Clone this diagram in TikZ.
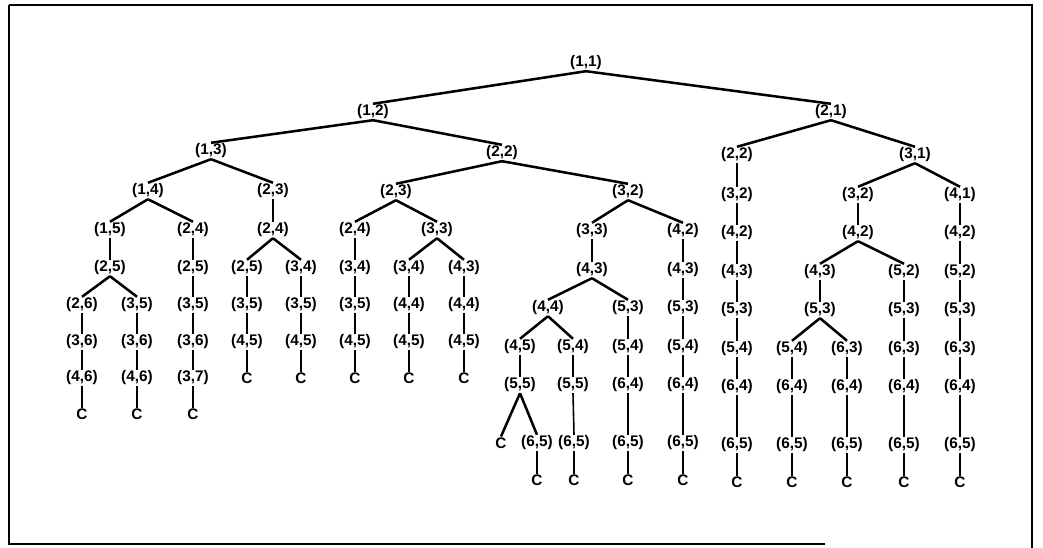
\documentclass[tikz,border=0pt]{standalone}
\usepackage{fontspec}
\setmainfont{Liberation Sans}
\begin{document}
\begin{tikzpicture}[x=0.75pt,y=-0.75pt,
  lbl/.style={font=\fontsize{11.5}{12}\selectfont\bfseries, inner sep=0.6pt},
  branch/.style={line width=1.9pt},
  stem/.style={line width=1.2pt},
  frame/.style={line width=1.8pt}]
\useasboundingbox (0,0) rectangle (1043,548);

% page frame
\draw[frame] (9,5) -- (1032,5) -- (1032,548);
\draw[frame] (9,5) -- (9,544) -- (825,544);

% state nodes: name / x / y / i / j
\foreach \n/\x/\y/\i/\j in {
  root/586/63/1/1, a/373/112/1/2, b/831/112/2/1,
  aa/211/151/1/3, ab/502/153/2/2,
  aaa/148/191/1/4, aab/273/191/2/3,
  aaaa/110/230/1/5, aaab/193/230/2/4, aaaa1/110/268/2/5,
  l1/82/305/2/6, l2/82/342/3/6, l3/82/378/4/6,
  k1/137/305/3/5, k2/137/342/3/6, k3/137/378/4/6,
  j1/193/268/2/5, j2/193/305/3/5, j3/193/342/3/6, j4/193/378/3/7,
  aab1/273/230/2/4,
  h1/247/268/2/5, h2/247/305/3/5, h3/247/342/4/5,
  g1/301/268/3/4, g2/301/305/3/5, g3/301/342/4/5,
  aba/396/192/2/3,
  f0/355/230/2/4, f1/355/268/3/4, f2/355/305/3/5, f3/355/342/4/5,
  e0/437/230/3/3, e1/409/268/3/4, e2/409/305/4/4, e3/409/342/4/5,
  d1/464/268/4/3, d2/464/305/4/4, d3/464/342/4/5,
  abb/628/192/3/2,
  c0/592/231/3/3, c1/592/270/4/3, c2/548/308/4/4, c3/520/347/4/5,
  c4/520/385/5/5, c5/537/443/6/5,
  s1/573/347/5/4, s2/573/385/5/5, s3/574/443/6/5,
  u1/628/308/5/3, u2/628/347/5/4, u3/628/385/6/4, u4/628/443/6/5,
  v0/683/231/4/2, v1/683/270/4/3, v2/683/308/5/3, v3/683/347/5/4,
  v4/683/385/6/4, v5/683/443/6/5,
  ba/737/155/2/2, w1/737/195/3/2, w2/737/233/4/2, w3/737/272/4/3,
  w4/737/310/5/3, w5/737/349/5/4, w6/737/387/6/4, w7/737/445/6/5,
  bb/915/155/3/1, x0/858/195/3/2, x1/858/233/4/2,
  y0/820/272/4/3, y1/820/310/5/3, y2/792/349/5/4, y3/792/387/6/4, y4/792/445/6/5,
  z2/847/349/6/3, z3/847/387/6/4, z4/847/445/6/5,
  o0/904/272/5/2, o1/904/310/5/3, o2/904/349/6/3, o3/904/387/6/4, o4/904/445/6/5,
  q0/960/195/4/1, q1/960/233/4/2, q2/960/272/5/2, q3/960/310/5/3,
  q4/960/349/6/3, q5/960/387/6/4, q6/960/445/6/5}
  \node[lbl] (\n) at (\x,\y) {(\i,\j)};

% terminal nodes
\foreach \n/\x/\y in {
  lc/82/414, kc/137/414, jc/193/414, hc/247/378, gc/301/378,
  fc/355/378, ec/409/378, dc/464/378,
  cc1/501/443, cc2/537/480, sc/574/480, uc/628/480, vc/683/480,
  wc/737/482, yc/792/482, zc/847/482, oc/904/482, qc/960/482}
  \node[lbl] (\n) at (\x,\y) {C};

% branching edges
\foreach \p/\c in {
  root/a, root/b, a/aa, a/ab, aa/aaa, aa/aab, aaa/aaaa, aaa/aaab,
  aaaa1/l1, aaaa1/k1, aab1/h1, aab1/g1, ab/aba, ab/abb, aba/f0, aba/e0,
  e0/e1, e0/d1, abb/c0, abb/v0, c1/c2, c1/u1, c2/c3, c2/s1, c4/cc1, c4/c5,
  b/ba, b/bb, bb/x0, bb/q0, x1/y0, x1/o0, y1/y2, y1/z2}
  \draw[branch] (\p.south) -- (\c.north);

% single-successor edges
\foreach \p/\c in {
  aaaa/aaaa1, l1/l2, l2/l3, l3/lc, k1/k2, k2/k3, k3/kc,
  aaab/j1, j1/j2, j2/j3, j3/j4, j4/jc,
  aab/aab1, h1/h2, h2/h3, h3/hc, g1/g2, g2/g3, g3/gc,
  f0/f1, f1/f2, f2/f3, f3/fc, e1/e2, e2/e3, e3/ec, d1/d2, d2/d3, d3/dc,
  c0/c1, c3/c4, c5/cc2, s1/s2, s2/s3, s3/sc,
  u1/u2, u2/u3, u3/u4, u4/uc,
  v0/v1, v1/v2, v2/v3, v3/v4, v4/v5, v5/vc,
  ba/w1, w1/w2, w2/w3, w3/w4, w4/w5, w5/w6, w6/w7, w7/wc,
  x0/x1, y0/y1, y2/y3, y3/y4, y4/yc, z2/z3, z3/z4, z4/zc,
  o0/o1, o1/o2, o2/o3, o3/o4, o4/oc,
  q0/q1, q1/q2, q2/q3, q3/q4, q4/q5, q5/q6, q6/qc}
  \draw[stem] (\p.south) -- (\c.north);
\end{tikzpicture}
\end{document}
